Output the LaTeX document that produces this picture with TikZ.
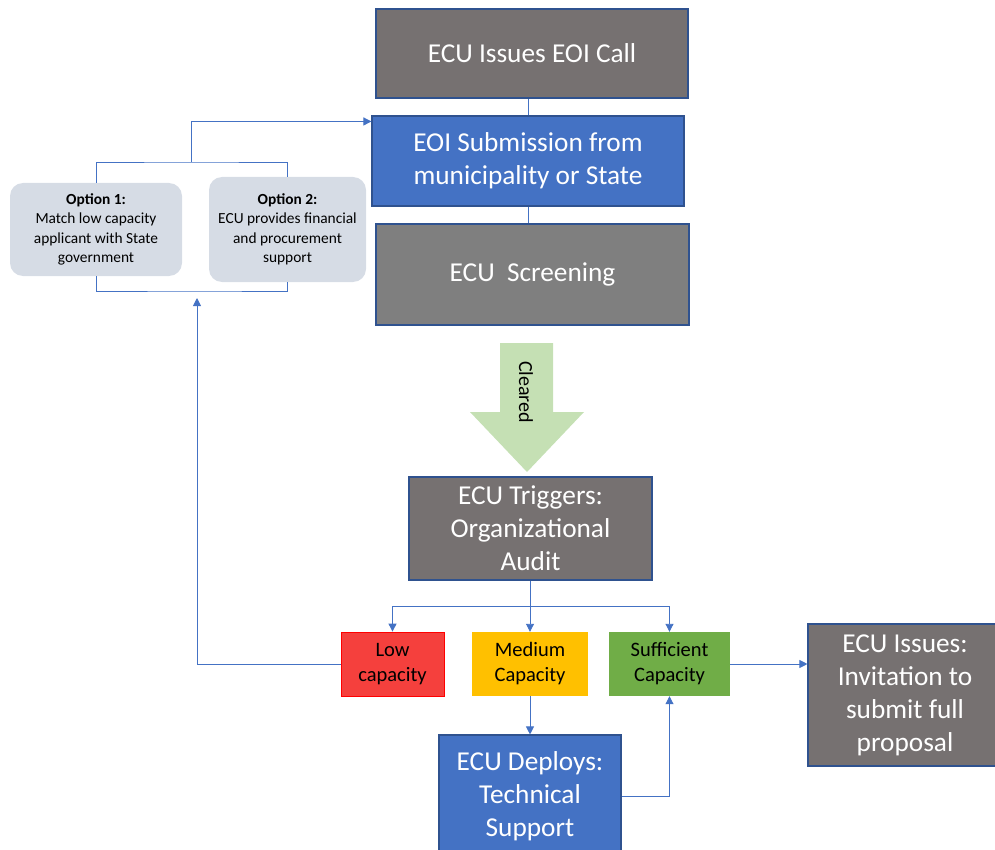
\documentclass[tikz,border=0pt]{standalone}
\usepackage{fontspec}
\setmainfont{Carlito}
\usetikzlibrary{arrows.meta}

\definecolor{darkbox}{HTML}{767171}
\definecolor{midbox}{HTML}{7F7F7F}
\definecolor{bluebox}{HTML}{4472C4}
\definecolor{edgeblue}{HTML}{2F528F}
\definecolor{linkblue}{HTML}{4472C4}
\definecolor{optfill}{HTML}{D6DCE5}
\definecolor{clrgreen}{HTML}{C5E0B4}
\definecolor{lowred}{HTML}{F5403D}
\definecolor{medamber}{HTML}{FFC000}
\definecolor{suffgreen}{HTML}{70AD47}

\begin{document}
\begin{tikzpicture}[x=1pt, y=-1pt,
    step box/.style = {draw=edgeblue, line width=1.1pt, text=white, align=center, inner sep=0pt,
        font=\fontsize{27.3}{33}\selectfont},
    level/.style = {align=center, inner sep=0pt, minimum height=64pt, font=\fontsize{20.5}{25}\selectfont},
    option/.style = {fill=optfill, rounded corners=13pt, align=center, inner sep=0pt,
        font=\fontsize{15.4}{19.5}\selectfont},
    link/.style = {draw=linkblue, line width=0.9pt},
    arr/.style = {link, -{Triangle[length=8pt,width=8pt]}}]
\useasboundingbox (0,0) rectangle (995,850);

% main column
\node[step box, fill=darkbox, minimum width=312pt, minimum height=89pt] (call) at (532,53.5) {ECU Issues EOI Call};
\node[step box, fill=bluebox, minimum width=312pt, minimum height=90pt] (submit) at (528,161) {EOI Submission from\\municipality or State};
\node[step box, fill=midbox, minimum width=313pt, minimum height=101pt] (screen) at (532.5,274.5) {ECU~~Screening};

% cleared arrow
\fill[clrgreen] (500,343) -- (553,343) -- (553,412) -- (584,412) -- (527,472) -- (470,412) -- (500,412) -- cycle;
\node[rotate=-90, font=\fontsize{20}{24}\selectfont] (clr) at (526,392) {Cleared};

\node[step box, fill=darkbox, minimum width=243pt, minimum height=103pt] (audit) at (530.5,528.5) {ECU Triggers:\\Organizational\\Audit};

% capacity levels
\node[level, fill=lowred, draw=red, line width=0.8pt, minimum width=103pt] (low) at (392.5,664) {Low\\capacity};
\node[level, fill=medamber, minimum width=116pt] (med) at (530,664) {Medium\\Capacity};
\node[level, fill=suffgreen, minimum width=121pt] (suff) at (669.5,664) {Sufficient\\Capacity};

\node[step box, fill=bluebox, minimum width=182pt, minimum height=123pt] (deploy) at (530,796.5) {ECU Deploys:\\Technical\\Support};
\node[step box, fill=darkbox, minimum width=194pt, minimum height=142pt] (invite) at (905,695) {ECU Issues:\\Invitation to\\submit full\\proposal};

% options
\node[option, minimum width=172pt, minimum height=93pt] (opt1) at (96,229.5) {\textbf{Option 1:}\\Match low capacity\\applicant with State\\government};
\node[option, minimum width=157pt, minimum height=105pt] (opt2) at (287.5,229.5) {\textbf{Option 2:}\\ECU provides financial\\and procurement\\support};

\coordinate (top) at (191,162);
\coordinate (bot) at (197,291);
\coordinate (split) at (530,606);

\draw[link] (submit.north) -- (submit.north |- call.south);
\draw[link] (submit.south) -- (submit.south |- screen.north);
\draw[link] (opt1.north) |- (top) -| (opt2.north);
\draw[link] (opt1.south) |- (bot) -| (opt2.south);
\draw[arr] (top) |- ([yshift=-6pt]submit.north west);
\draw[link] (audit.south -| split) -- (split);
\draw[arr] (split) -| (low.north);
\draw[arr] (split) -- (med.north);
\draw[arr] (split) -| (suff.north);
\draw[arr] (med) -- (deploy);
\draw[arr] (deploy.east) -| (suff.south);
\draw[arr] (suff.east) -- (suff.east -| invite.west);
\draw[arr] (low.west) -| ([yshift=-7pt]bot);
\end{tikzpicture}
\end{document}
